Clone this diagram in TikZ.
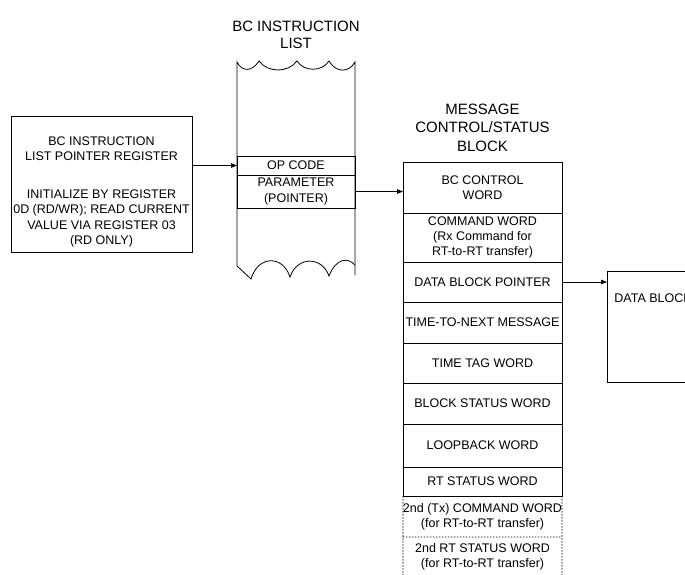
\documentclass[tikz,border=0pt]{standalone}
\usepackage{fontspec}
\setmainfont{Liberation Sans}
\usetikzlibrary{arrows.meta,positioning}
\tikzset{
    %Define standard arrow tip
    >={Triangle[length=6pt,width=4.5pt]},
    %Define style for the word boxes
    feld/.style={
           rectangle,
           draw=black, line width=0.8pt,
           minimum width=159pt,
           inner sep=0pt, outer sep=0pt,
           align=center,
           font=\fontsize{12.5}{15.2}\selectfont},
    % Define style for the titles
    titel/.style={
           align=center,
           font=\fontsize{15}{18}\selectfont},
    % Define arrow style
    pil/.style={
           ->,
           line width=0.8pt}
}
\begin{document}
\begin{tikzpicture}[x=1pt, y=-1pt, node distance=0pt, line width=0.8pt]
\useasboundingbox (0,0) rectangle (685,574);
\clip (0,0) rectangle (685,574);

% pointer register
\node[feld, minimum width=181pt, minimum height=136pt] (lpr) at (101.5,184)
  {\rule{0pt}{24pt}BC INSTRUCTION\\LIST POINTER REGISTER\\[23pt]INITIALIZE BY REGISTER\\0D (RD/WR); READ CURRENT\\VALUE VIA REGISTER 03\\(RD ONLY)};

% instruction list
\node[titel, font=\fontsize{15}{17}\selectfont] (listtitle) at (296,34.5) {BC INSTRUCTION\\LIST};
\draw (237,266) -- (237,62)
  .. controls (242,72) and (252,72) .. (259,61)
  .. controls (268,73) and (288,73) .. (297,61)
  .. controls (304,72) and (322,72) .. (329,61)
  .. controls (336,73) and (349,73) .. (355,62)
  -- (355,275);
\draw (237,266) -- (251,279)
  .. controls (258,255) and (283,255) .. (290,277)
  .. controls (297,256) and (322,256) .. (329,276)
  .. controls (336,258) and (348,257) .. (355,265);
\node[feld, minimum width=118pt, minimum height=19pt] (opcode) at (296,165.5) {OP CODE};
\node[feld, minimum width=118pt, minimum height=33pt, below=of opcode] (param) {PARAMETER\\(POINTER)};

% message control/status block
\node[titel, font=\fontsize{15}{18.5}\selectfont] (msgtitle) at (482.5,127.5) {MESSAGE\\CONTROL/STATUS\\BLOCK};
\node[feld, minimum height=51pt] (ctrl) at (482.5,187.5) {BC CONTROL\\WORD};
\node[feld, minimum height=49pt, below=of ctrl] (cmd) {COMMAND WORD\\(Rx Command for\\RT-to-RT transfer)};
\node[feld, minimum height=40pt, below=of cmd] (dbp) {DATA BLOCK POINTER};
\node[feld, minimum height=41pt, below=of dbp] (ttn) {TIME-TO-NEXT MESSAGE};
\node[feld, minimum height=40pt, below=of ttn] (ttw) {TIME TAG WORD};
\node[feld, minimum height=41pt, below=of ttw] (bsw) {BLOCK STATUS WORD};
\node[feld, minimum height=43pt, below=of bsw] (lbw) {LOOPBACK WORD};
\node[feld, minimum height=29pt, below=of lbw] (rts) {RT STATUS WORD};
\node[feld, draw=none, minimum height=41pt, below=of rts] (tx) {2nd (Tx) COMMAND WORD\\(for RT-to-RT transfer)};
\node[feld, draw=none, minimum height=40pt, below=of tx] (rt2) {2nd RT STATUS WORD\\(for RT-to-RT transfer)};
\draw[dash pattern=on 1.5pt off 1.5pt] (tx.north west) -- (rt2.south west)
  (tx.north east) -- (rt2.south east)
  (tx.south west) -- (tx.south east);

% data block
\node[draw, minimum width=120pt, minimum height=111pt, anchor=north west] (data) at (607,271) {};
\node[anchor=west, font=\fontsize{12.5}{15}\selectfont, inner sep=0pt] (datalbl) at ([shift={(7,27)}]data.north west) {DATA BLOCK};

% connectors
\draw[pil] (lpr.east |- opcode.west) -- (opcode.west);
\draw[pil] (param.east) -- (param.east -| ctrl.west);
\draw[pil] (dbp.east) -- (dbp.east -| data.west);
\end{tikzpicture}
\end{document}
